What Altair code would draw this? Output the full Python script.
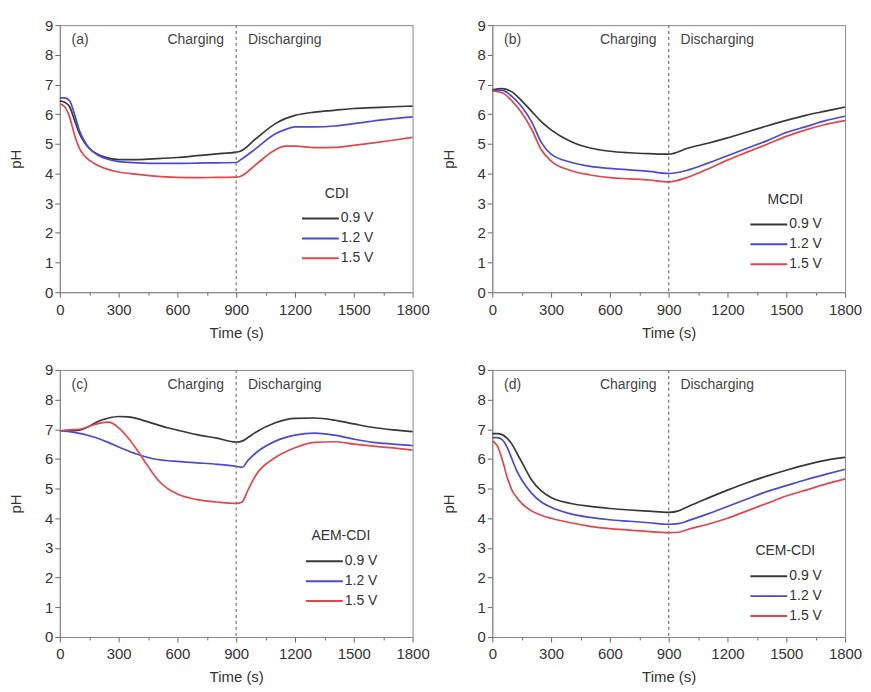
import altair as alt
import pandas as pd

voltages = ["0.9 V", "1.2 V", "1.5 V"]
colors = ["#383838", "#4a4ad4", "#e0474c"]
panel_tags = ["(a)", "(b)", "(c)", "(d)"]
legend_titles = ["CDI", "MCDI", "AEM-CDI", "CEM-CDI"]
switch_time = 900

# Panel (a) CDI
a_t = [0, 25, 50, 75, 100, 125, 150, 200, 250, 300, 400, 500, 600, 700, 800, 900, 920,
       1000, 1100, 1150, 1200, 1300, 1400, 1500, 1600, 1700, 1800]
a_09 = [6.45, 6.4, 6.25, 5.8, 5.35, 5.05, 4.85, 4.62, 4.52, 4.47, 4.47, 4.5, 4.54, 4.6, 4.66, 4.72, 4.75,
        5.17, 5.68, 5.85, 5.96, 6.07, 6.13, 6.19, 6.22, 6.25, 6.27]
a_12 = [6.55, 6.55, 6.45, 6.0, 5.45, 5.1, 4.85, 4.6, 4.47, 4.4, 4.36, 4.34, 4.34, 4.35, 4.36, 4.37, 4.45,
        4.84, 5.34, 5.48, 5.57, 5.57, 5.6, 5.68, 5.77, 5.85, 5.91]
a_15 = [6.35, 6.25, 5.9, 5.3, 4.85, 4.6, 4.45, 4.25, 4.13, 4.05, 3.97, 3.9, 3.87, 3.86, 3.87, 3.88, 3.9,
        4.3, 4.8, 4.92, 4.92, 4.87, 4.88, 4.95, 5.03, 5.12, 5.22]

# Panel (b) MCDI
b_t = [0, 50, 100, 150, 200, 250, 300, 400, 500, 600, 700, 800, 900,
       1000, 1100, 1200, 1300, 1400, 1500, 1600, 1700, 1800]
b_09 = [6.82, 6.86, 6.75, 6.45, 6.1, 5.75, 5.47, 5.08, 4.86, 4.75, 4.7, 4.67, 4.65,
        4.86, 5.02, 5.2, 5.4, 5.6, 5.79, 5.96, 6.1, 6.24]
b_12 = [6.8, 6.8, 6.6, 6.25, 5.75, 5.05, 4.65, 4.38, 4.24, 4.17, 4.12, 4.07, 4.0,
        4.12, 4.35, 4.6, 4.85, 5.1, 5.38, 5.58, 5.78, 5.93]
b_15 = [6.78, 6.72, 6.45, 6.05, 5.5, 4.8, 4.42, 4.1, 3.95, 3.86, 3.82, 3.78, 3.72,
        3.88, 4.15, 4.45, 4.72, 4.98, 5.25, 5.47, 5.65, 5.78]

# Panel (c) AEM-CDI
c_t = [0, 50, 100, 150, 200, 250, 300, 350, 400, 450, 500, 550, 600, 700, 800, 900, 930, 960,
       1000, 1100, 1200, 1300, 1400, 1500, 1600, 1700, 1800]
c_09 = [6.95, 6.95, 6.97, 7.1, 7.28, 7.38, 7.43, 7.42, 7.35, 7.25, 7.15, 7.05, 6.97, 6.82, 6.7, 6.57, 6.6, 6.72,
        6.9, 7.22, 7.37, 7.38, 7.31, 7.18, 7.06, 6.98, 6.92]
c_12 = [6.95, 6.92, 6.86, 6.78, 6.68, 6.55, 6.4, 6.27, 6.15, 6.05, 5.98, 5.94, 5.92, 5.87, 5.82, 5.75, 5.72, 5.95,
        6.2, 6.6, 6.8, 6.87, 6.8, 6.67, 6.56, 6.5, 6.45]
c_15 = [6.95, 6.98, 7.0, 7.1, 7.2, 7.24, 7.05, 6.7, 6.25, 5.75, 5.3, 5.0, 4.82, 4.63, 4.55, 4.5, 4.55, 4.95,
        5.45, 6.05, 6.38, 6.56, 6.58, 6.5, 6.43, 6.37, 6.3]

# Panel (d) CEM-CDI
d_t = [0, 25, 50, 75, 100, 125, 150, 200, 250, 300, 400, 500, 600, 700, 800, 900, 950,
       1000, 1100, 1200, 1300, 1400, 1500, 1600, 1700, 1800]
d_09 = [6.85, 6.85, 6.82, 6.7, 6.5, 6.2, 5.9, 5.3, 4.92, 4.7, 4.5, 4.4, 4.33, 4.28, 4.24, 4.2, 4.25,
        4.4, 4.68, 4.95, 5.2, 5.42, 5.62, 5.8, 5.95, 6.05]
d_12 = [6.72, 6.72, 6.65, 6.4, 6.0, 5.6, 5.3, 4.85, 4.55, 4.37, 4.15, 4.03, 3.95, 3.9, 3.85, 3.8, 3.82,
        3.92, 4.15, 4.4, 4.65, 4.9, 5.1, 5.3, 5.48, 5.65]
d_15 = [6.6, 6.45, 6.0, 5.4, 4.95, 4.7, 4.5, 4.25, 4.1, 4.0, 3.85, 3.73, 3.65, 3.6, 3.55, 3.52, 3.53,
        3.63, 3.8, 4.0, 4.25, 4.5, 4.75, 4.95, 5.15, 5.33]

x_ticks = list(range(0, 1801, 150))
y_ticks = [i * 0.5 for i in range(19)]

FONT = "Liberation Sans"
W, H = 354, 268

X_AXIS = alt.Axis(values=x_ticks, format="d",
                  labelExpr="datum.value % 300 === 0 ? datum.label : ''",
                  title="Time (s)", labelFlush=False, labelOverlap=False,
                  tickSize={"condition": {"test": "datum.value % 300 === 0", "value": 5}, "value": 3},
                  labelPadding=5, titlePadding=8)
Y_AXIS = alt.Axis(values=y_ticks, format="d",
                  labelExpr="datum.value % 1 === 0 ? datum.label : ''",
                  title="pH", labelFlush=False, labelOverlap=False,
                  tickSize={"condition": {"test": "datum.value % 1 === 0", "value": 5}, "value": 3},
                  labelPadding=2, titlePadding=21)
XS = alt.Scale(domain=[0, 1800], nice=False)
YS = alt.Scale(domain=[0, 9], nice=False)


def make_panel(idx, times, series, leg_x, leg_y):
    rows = []
    for v, vals in zip(voltages, series):
        for t, p in zip(times, vals):
            rows.append({"t": t, "pH": p, "V": v})
    df = pd.DataFrame(rows)

    lines = alt.Chart(df).mark_line(interpolate="monotone", strokeWidth=1.7).encode(
        x=alt.X("t:Q", scale=XS, axis=X_AXIS),
        y=alt.Y("pH:Q", scale=YS, axis=Y_AXIS),
        color=alt.Color("V:N", scale=alt.Scale(domain=voltages, range=colors),
                        legend=alt.Legend(title=legend_titles[idx], orient="none",
                                          legendX=leg_x, legendY=leg_y,
                                          symbolType="stroke", symbolSize=1369,
                                          symbolStrokeWidth=2, labelFontSize=14,
                                          titleFontSize=14, titleFontWeight="normal",
                                          titleAnchor="middle", titleAlign="center",
                                          titlePadding=10, labelOffset=1, rowPadding=4,
                                          clipHeight=16,
                                          labelFont=FONT, titleFont=FONT,
                                          labelColor="#333", titleColor="#333")),
    )

    rule = alt.Chart(pd.DataFrame({"t": [switch_time]})).mark_rule(
        strokeDash=[3, 3], color="#777", strokeWidth=1.2).encode(
        x=alt.X("t:Q", scale=XS, axis=X_AXIS))

    annot = pd.DataFrame({
        "t": [60, 838, 960],
        "pH": [8.5, 8.5, 8.5],
        "label": [panel_tags[idx], "Charging", "Discharging"],
        "al": ["left", "right", "left"],
    })
    texts = []
    for al in ["left", "right"]:
        texts.append(
            alt.Chart(annot).transform_filter(alt.datum.al == al).mark_text(
                align=al, fontSize=14, font=FONT, color="#444").encode(
                x=alt.X("t:Q", scale=XS, axis=X_AXIS),
                y=alt.Y("pH:Q", scale=YS, axis=Y_AXIS),
                text="label:N")
        )

    return alt.layer(lines, rule, *texts).properties(width=W, height=H)


pa = make_panel(0, a_t, [a_09, a_12, a_15], 242, 162)
pb = make_panel(1, b_t, [b_09, b_12, b_15], 258, 168)
pc = make_panel(2, c_t, [c_09, c_12, c_15], 246, 160)
pd_ = make_panel(3, d_t, [d_09, d_12, d_15], 258, 175)

chart = alt.concat(pa, pb, pc, pd_, columns=2, bounds="flush",
                   spacing=alt.RowColnumber(row=78, column=80)).resolve_scale(
    color="independent").resolve_legend(color="independent").properties(
    padding={"left": 0, "top": 8, "right": 0, "bottom": 0}
).configure_view(stroke="#8a8a8a", strokeWidth=1).configure_axis(
    labelFont=FONT, titleFont=FONT, labelFontSize=15, titleFontSize=15,
    labelColor="#333", titleColor="#333", titleFontWeight="normal",
    domainColor="#8a8a8a", tickColor="#666", grid=False
)

chart.save("out.html", embed_options={"renderer": "svg", "actions": False})
